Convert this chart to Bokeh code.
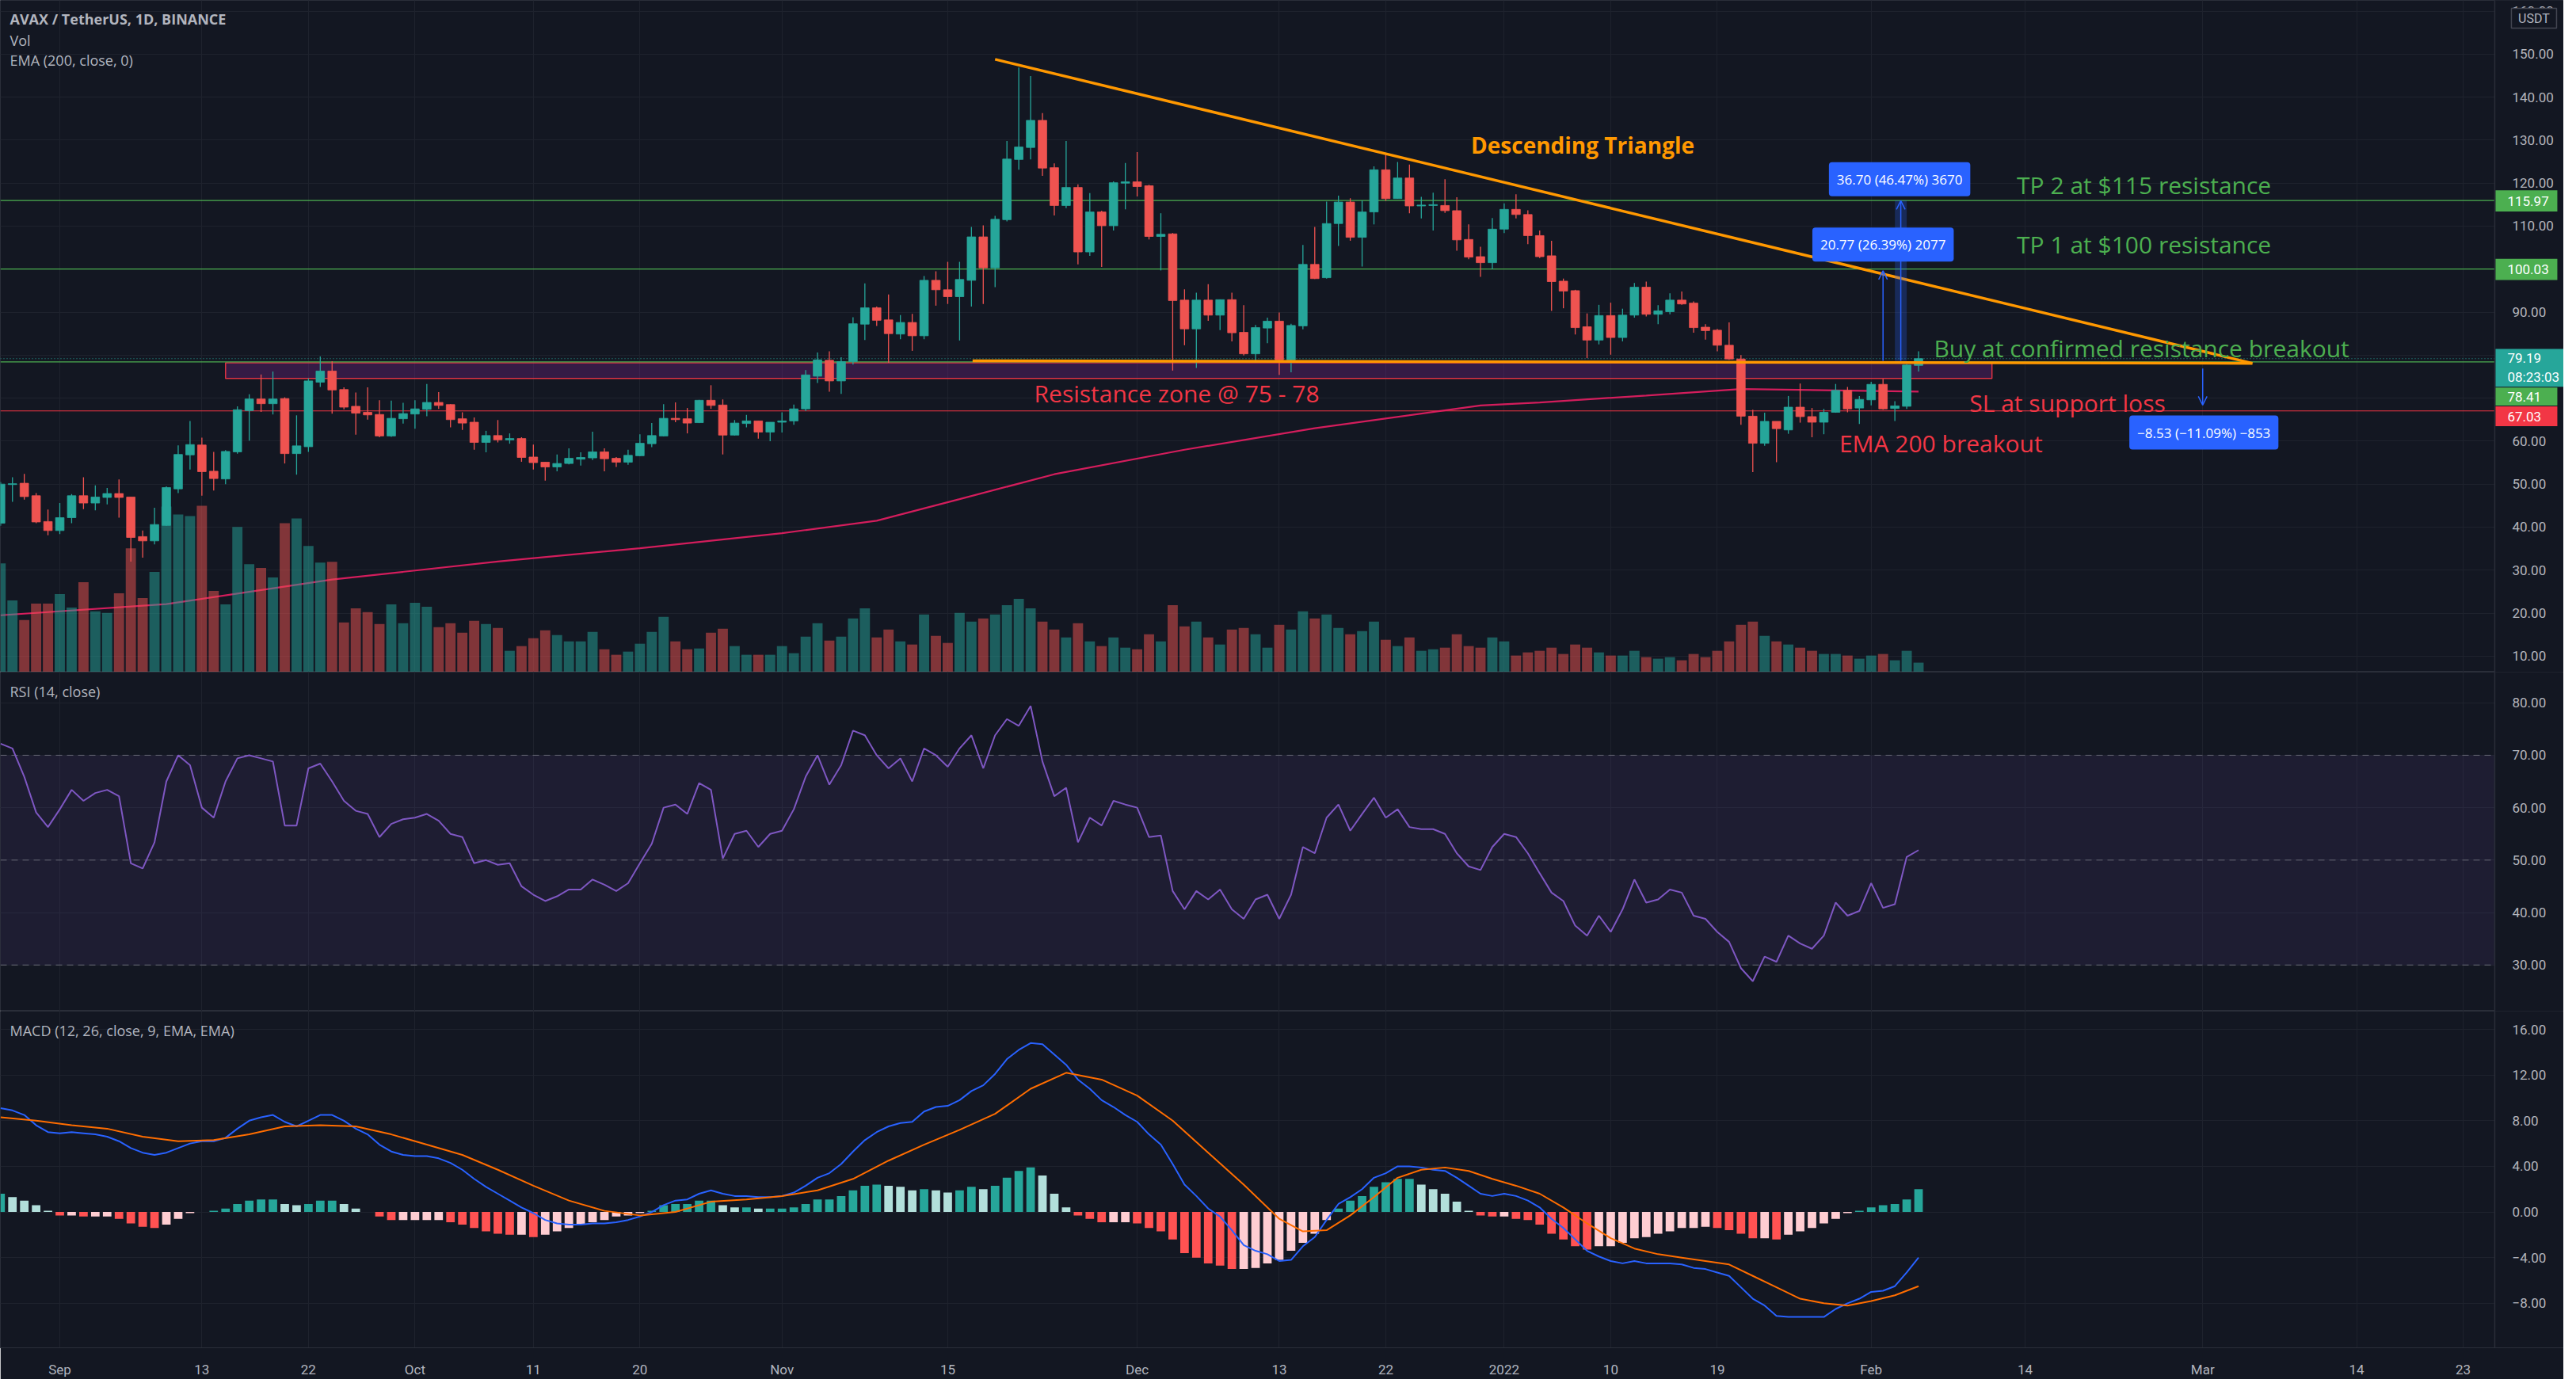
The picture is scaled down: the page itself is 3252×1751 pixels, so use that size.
from bokeh.plotting import figure
from bokeh.layouts import column
from bokeh.models import (Range1d, FixedTicker, Grid, Label, Arrow, OpenHead,
                          ColumnDataSource, CustomJSTickFormatter)
from bokeh.embed import file_html
from bokeh.resources import INLINE

# ---------------- data (day index: 0 = 1 Sep 2021) ----------------
days = list(range(-5, 158))

opens = [40.9, 49.9, 50.2, 47.3, 41.3, 39.2, 42.2, 47.3, 45.6, 46.9,
         47.8, 47.0, 37.8, 36.8, 40.4, 48.9, 56.8, 59.1, 53.0, 51.2,
         57.5, 67.1, 69.8, 68.7, 69.9, 57.1, 58.7, 73.7, 76.3, 72.0,
         68.1, 66.7, 66.2, 61.2, 65.2, 66.3, 67.4, 69.0, 68.5, 65.2,
         64.4, 59.7, 61.3, 60.3, 60.6, 56.3, 55.1, 54.0, 54.8, 55.8,
         56.1, 57.5, 56.0, 55.1, 56.6, 59.4, 61.2, 65.3, 65.2, 64.3,
         69.5, 68.4, 61.4, 64.1, 64.7, 62.1, 64.4, 64.7, 67.5, 75.1,
         78.8, 74.0, 78.5, 87.2, 91.0, 88.2, 84.9, 87.6, 84.5, 97.4,
         95.2, 93.6, 97.4, 107.5, 100.3, 111.5, 125.5, 128.3, 134.6, 123.6,
         114.8, 119.0, 104.0, 113.3, 110.1, 120.0, 120.3, 119.4, 107.6, 108.2,
         92.8, 86.1, 92.8, 89.3, 92.9, 85.3, 80.3, 86.3, 87.9, 78.9,
         86.8, 101.1, 98.0, 110.6, 115.6, 107.4, 113.3, 123.1, 116.4, 121.2,
         114.7, 114.8, 114.8, 113.6, 106.9, 102.9, 101.5, 109.3, 113.9, 112.7,
         107.8, 103.1, 97.2, 95.0, 86.6, 83.5, 89.2, 84.1, 89.3, 95.8,
         89.5, 90.1, 92.8, 92.1, 86.5, 85.8, 82.3, 79.1, 65.8, 59.5,
         64.6, 62.6, 67.9, 65.7, 64.4, 66.7, 71.8, 67.7, 69.6, 73.2,
         67.6, 68.1, 77.6]
highs = [50.5, 51.6, 52.4, 47.9, 44.1, 45.6, 47.7, 51.6, 49.7, 49.1,
         51.1, 47.0, 39.2, 44.5, 49.5, 59.0, 64.7, 60.8, 57.5, 57.9,
         68.1, 70.9, 75.5, 76.2, 70.2, 66.0, 74.6, 79.7, 78.6, 72.5,
         71.3, 72.5, 69.5, 69.4, 68.9, 69.5, 73.3, 71.4, 68.6, 66.7,
         65.5, 62.4, 64.9, 61.8, 60.9, 59.2, 55.1, 56.9, 58.3, 57.4,
         62.2, 58.3, 56.3, 58.0, 61.6, 64.2, 68.6, 69.0, 67.7, 69.6,
         73.0, 69.7, 64.9, 66.1, 64.7, 64.4, 66.7, 68.5, 76.5, 80.6,
         80.9, 79.5, 88.8, 96.7, 91.3, 94.1, 89.3, 89.6, 98.4, 99.5,
         101.7, 101.7, 109.8, 110.2, 112.4, 129.8, 146.9, 144.9, 136.3, 124.6,
         129.8, 119.7, 117.7, 113.6, 120.4, 124.7, 127.2, 119.6, 113.0, 108.4,
         95.3, 94.5, 96.5, 92.9, 94.5, 91.6, 87.0, 88.7, 89.9, 87.3,
         105.6, 109.8, 115.7, 117.1, 116.5, 116.0, 123.9, 127.0, 124.9, 124.3,
         116.8, 117.8, 120.9, 116.7, 110.4, 105.2, 111.9, 115.3, 117.4, 113.7,
         109.0, 106.6, 97.8, 95.2, 89.7, 91.7, 92.2, 90.8, 96.8, 97.1,
         91.6, 94.4, 94.8, 92.5, 87.2, 86.1, 87.6, 80.0, 67.3, 66.6,
         64.6, 70.5, 73.4, 67.7, 67.5, 73.3, 72.6, 70.5, 73.8, 74.5,
         69.3, 77.9, 80.9]
lows = [40.3, 45.9, 46.4, 40.9, 38.1, 38.4, 40.9, 44.2, 43.9, 45.3,
        42.2, 32.0, 32.9, 36.0, 40.3, 47.9, 53.4, 47.3, 48.5, 50.0,
        57.1, 60.1, 66.8, 66.2, 54.8, 52.2, 57.5, 72.6, 66.4, 67.4,
        61.5, 65.0, 60.9, 61.0, 64.1, 62.9, 65.8, 67.5, 63.2, 62.6,
        58.0, 57.4, 59.7, 59.4, 55.2, 53.4, 50.8, 53.0, 54.6, 54.3,
        55.6, 53.0, 54.0, 54.5, 56.5, 58.6, 61.1, 64.4, 61.8, 64.2,
        67.5, 56.9, 61.3, 63.2, 60.6, 60.0, 62.0, 63.8, 67.0, 73.5,
        71.5, 71.0, 77.8, 83.5, 86.8, 78.2, 83.7, 81.0, 83.7, 91.5,
        91.9, 83.4, 91.3, 91.9, 95.8, 111.1, 123.1, 125.5, 121.7, 112.5,
        114.2, 101.1, 103.1, 100.5, 109.0, 113.9, 116.9, 106.9, 99.7, 76.4,
        82.3, 77.0, 88.0, 85.8, 83.2, 79.9, 78.2, 82.8, 75.4, 76.0,
        86.0, 97.7, 97.8, 105.4, 106.6, 100.6, 110.4, 115.9, 116.4, 113.0,
        111.8, 109.0, 113.1, 104.3, 102.3, 98.2, 100.0, 108.4, 111.8, 105.8,
        102.6, 90.3, 90.9, 84.8, 79.3, 82.5, 80.1, 83.2, 88.7, 89.0,
        87.2, 89.5, 91.7, 85.2, 83.6, 80.9, 78.9, 63.8, 52.8, 58.9,
        55.1, 61.7, 64.3, 60.9, 61.6, 66.6, 66.7, 64.0, 68.3, 67.3,
        64.7, 67.5, 76.2]
closes = [50.0, 50.1, 47.1, 41.2, 39.2, 42.2, 47.3, 45.6, 47.0, 47.8,
          46.9, 37.6, 36.8, 40.6, 49.2, 56.9, 59.2, 52.9, 51.3, 57.6,
          67.3, 69.8, 68.7, 69.8, 57.1, 58.9, 74.0, 76.3, 71.9, 67.9,
          66.5, 66.1, 61.2, 65.3, 66.4, 67.5, 69.0, 68.3, 65.0, 64.2,
          59.7, 61.3, 60.3, 60.6, 56.2, 55.0, 54.0, 54.8, 56.0, 56.2,
          57.5, 55.9, 55.1, 56.7, 59.5, 61.3, 65.3, 65.0, 64.2, 69.5,
          68.3, 61.4, 64.2, 64.7, 62.1, 64.4, 64.7, 67.5, 75.4, 78.9,
          74.0, 78.5, 87.3, 91.0, 88.1, 85.0, 87.6, 84.5, 97.4, 95.2,
          93.6, 97.6, 107.5, 100.3, 111.6, 125.6, 128.4, 134.6, 123.5, 114.8,
          119.0, 104.0, 113.3, 110.1, 120.1, 120.3, 119.2, 107.6, 108.1, 92.7,
          86.1, 92.8, 89.3, 92.9, 85.2, 80.3, 86.4, 87.9, 78.9, 86.9,
          101.1, 97.8, 110.6, 115.6, 107.4, 113.3, 123.1, 116.4, 121.2, 114.7,
          114.9, 115.0, 113.6, 106.8, 102.8, 101.5, 109.3, 113.9, 112.7, 107.8,
          102.9, 97.1, 94.9, 86.4, 83.5, 89.2, 84.1, 89.3, 95.8, 89.5,
          90.3, 92.8, 91.9, 86.4, 85.7, 82.3, 79.1, 65.8, 59.5, 64.6,
          62.9, 67.9, 65.7, 64.4, 66.7, 71.8, 67.5, 69.7, 73.2, 67.5,
          68.2, 77.7, 79.19]
volumes = [13.8, 9.1, 6.6, 8.7, 8.7, 9.9, 8.2, 11.4, 7.7, 7.5,
           10.0, 15.7, 9.4, 12.7, 21.0, 20.0, 19.8, 21.1, 10.3, 8.6,
           18.4, 13.7, 13.2, 12.0, 18.9, 19.5, 16.0, 13.9, 14.0, 6.3,
           8.1, 7.6, 6.1, 8.6, 6.2, 8.8, 8.3, 5.7, 6.2, 5.0,
           6.5, 6.1, 5.6, 2.7, 3.3, 4.3, 5.3, 4.7, 3.9, 3.9,
           5.1, 2.9, 2.2, 2.6, 3.6, 5.1, 7.0, 3.9, 2.9, 3.0,
           5.0, 5.5, 3.3, 2.2, 2.2, 2.2, 3.3, 2.4, 4.5, 6.2,
           4.0, 4.5, 6.8, 8.1, 4.4, 5.4, 3.9, 3.5, 7.3, 4.6,
           3.7, 7.5, 6.4, 6.8, 7.3, 8.5, 9.3, 8.1, 6.4, 5.4,
           4.4, 6.2, 3.9, 3.3, 4.4, 3.1, 2.9, 4.8, 3.9, 8.5,
           5.8, 6.4, 4.4, 3.5, 5.4, 5.6, 4.8, 3.1, 6.0, 5.4,
           7.7, 6.8, 7.3, 5.6, 4.8, 5.2, 6.4, 4.1, 3.3, 4.4,
           2.7, 2.9, 3.1, 4.8, 3.3, 3.1, 4.4, 3.9, 2.1, 2.5,
           2.7, 3.1, 2.3, 3.5, 3.1, 2.5, 2.1, 2.1, 2.7, 1.9,
           1.7, 1.9, 1.5, 2.3, 1.9, 2.7, 3.9, 6.0, 6.4, 4.6,
           3.9, 3.5, 3.1, 2.7, 2.3, 2.3, 2.1, 1.7, 2.1, 2.3,
           1.5, 2.7, 1.2]

ema_days = [-5, 9, 23, 37, 49, 61, 69, 76, 84, 95, 106, 120, 125, 134, 142, 150, 157]
ema_vals = [19.5, 22.1, 27.8, 32.0, 35.1, 38.6, 41.5, 46.5, 52.3, 58.0, 63.0, 68.3, 69.0, 70.6, 72.1, 71.8, 71.5]

rsi = [72.2, 71.3, 65.9, 59.1, 56.3, 59.7, 63.4, 61.3, 62.8, 63.4,
       62.2, 49.4, 48.4, 53.4, 65.0, 70.0, 68.1, 60.0, 58.1, 65.0,
       69.4, 70.0, 69.4, 68.8, 56.6, 56.6, 67.5, 68.4, 65.0, 61.3,
       59.4, 58.8, 54.4, 56.9, 57.8, 58.1, 58.8, 57.5, 55.0, 54.4,
       49.4, 50.0, 49.1, 49.4, 45.0, 43.4, 42.2, 43.1, 44.4, 44.4,
       46.3, 45.3, 44.1, 45.6, 49.4, 53.1, 60.0, 60.6, 58.8, 64.7,
       63.4, 50.3, 55.0, 55.6, 52.5, 55.0, 55.6, 59.7, 65.9, 70.0,
       64.4, 68.1, 74.7, 73.8, 70.0, 67.5, 69.4, 65.0, 71.3, 70.0,
       67.8, 71.3, 73.8, 67.5, 73.8, 76.9, 75.6, 79.4, 68.8, 62.2,
       63.8, 53.4, 58.1, 56.6, 61.3, 60.6, 60.0, 54.4, 54.7, 44.1,
       40.6, 44.1, 42.5, 44.4, 40.6, 38.8, 42.5, 43.4, 38.8, 43.4,
       52.5, 51.3, 58.1, 60.6, 55.6, 58.8, 61.9, 58.1, 59.7, 56.3,
       55.9, 55.9, 55.0, 51.3, 48.8, 48.1, 52.5, 55.0, 54.4, 51.3,
       47.5, 43.8, 42.2, 37.5, 35.6, 39.4, 36.3, 40.6, 46.3, 41.9,
       42.5, 44.4, 43.8, 39.4, 38.8, 36.3, 34.4, 29.4, 26.9, 31.6,
       30.6, 35.6, 34.1, 33.1, 35.6, 41.9, 39.4, 40.3, 45.6, 40.9,
       41.6, 50.6, 51.9]

macd = [9.1, 8.9, 8.5, 7.6, 7.0, 6.9, 7.0, 6.9, 6.8, 6.6,
        6.2, 5.6, 5.2, 5.0, 5.2, 5.6, 6.0, 6.2, 6.2, 6.5,
        7.3, 8.0, 8.3, 8.5, 7.9, 7.5, 8.0, 8.5, 8.5, 8.0,
        7.3, 6.8, 5.9, 5.3, 5.0, 4.9, 4.9, 4.7, 4.3, 3.7,
        2.9, 2.2, 1.6, 1.0, 0.4, -0.1, -0.7, -1.0, -1.1, -1.1,
        -1.0, -1.0, -0.9, -0.7, -0.4, 0.0, 0.6, 1.0, 1.1, 1.6,
        1.9, 1.6, 1.4, 1.4, 1.3, 1.3, 1.4, 1.7, 2.3, 3.0,
        3.4, 4.2, 5.3, 6.3, 7.0, 7.5, 7.8, 7.9, 8.8, 9.2,
        9.3, 9.8, 10.6, 11.1, 12.1, 13.4, 14.2, 14.8, 14.7, 13.8,
        12.9, 11.6, 10.8, 9.8, 9.2, 8.5, 7.9, 6.8, 5.9, 4.2,
        2.4, 1.4, 0.3, -0.4, -1.6, -2.9, -3.4, -3.7, -4.3, -4.2,
        -3.0, -2.2, -0.7, 0.7, 1.3, 2.0, 3.0, 3.4, 4.0, 4.0,
        3.9, 3.7, 3.6, 3.0, 2.3, 1.6, 1.4, 1.6, 1.4, 1.0,
        0.4, -0.6, -1.4, -2.4, -3.4, -3.9, -4.3, -4.5, -4.3, -4.5,
        -4.5, -4.5, -4.6, -4.9, -5.0, -5.3, -5.6, -6.6, -7.6, -8.2,
        -9.1, -9.2, -9.2, -9.2, -9.2, -8.5, -8.0, -7.6, -7.0, -6.9,
        -6.5, -5.3, -4.0]
macd_hist = [1.6, 1.3, 1.0, 0.6, 0.1, -0.3, -0.3, -0.4, -0.4, -0.4,
             -0.6, -1.0, -1.3, -1.4, -1.1, -0.6, -0.1, 0.0, 0.1, 0.3,
             0.7, 1.0, 1.1, 1.1, 0.7, 0.6, 0.7, 1.0, 1.0, 0.7,
             0.3, 0.0, -0.4, -0.7, -0.7, -0.7, -0.7, -0.7, -0.9, -1.1,
             -1.4, -1.7, -1.9, -2.0, -2.0, -2.2, -2.0, -1.7, -1.4, -1.1,
             -0.9, -0.7, -0.4, -0.3, -0.1, 0.1, 0.6, 0.7, 0.7, 1.0,
             1.0, 0.6, 0.4, 0.4, 0.3, 0.3, 0.3, 0.4, 0.7, 1.1,
             1.1, 1.4, 1.9, 2.3, 2.4, 2.3, 2.2, 1.9, 2.0, 1.9,
             1.7, 1.9, 2.2, 2.0, 2.3, 3.0, 3.6, 3.9, 3.2, 1.6,
             0.4, -0.3, -0.6, -0.9, -0.9, -0.9, -1.0, -1.4, -1.7, -2.4,
             -3.6, -4.0, -4.5, -4.7, -5.0, -5.0, -4.9, -4.5, -4.2, -3.4,
             -2.7, -1.9, -0.7, 0.3, 1.0, 1.4, 2.2, 2.6, 2.9, 2.9,
             2.4, 2.0, 1.6, 0.9, 0.1, -0.3, -0.4, -0.4, -0.6, -0.7,
             -1.1, -1.9, -2.4, -3.0, -3.3, -3.0, -3.0, -2.7, -2.3, -2.2,
             -1.9, -1.7, -1.4, -1.4, -1.3, -1.4, -1.6, -1.9, -2.3, -2.3,
             -2.4, -2.0, -1.7, -1.4, -1.0, -0.6, -0.1, 0.1, 0.4, 0.6,
             0.7, 1.1, 2.0]
signal_days = [-5, -2, 1, 4, 7, 10, 13, 16, 19, 22, 25, 28, 31, 34, 37, 40, 43, 46, 49, 52,
               55, 58, 61, 64, 67, 70, 73, 76, 79, 82, 85, 88, 91, 94, 97, 100, 103, 105, 107,
               109, 111, 113, 115, 117, 119, 121, 123, 125, 127, 129, 131, 133, 135, 137, 139,
               141, 143, 145, 147, 149, 151, 153, 155, 157]
signal_vals = [8.3, 8.0, 7.6, 7.3, 6.6, 6.2, 6.3, 6.8, 7.5, 7.6, 7.5, 6.8, 5.9, 5.0, 3.7, 2.3,
               1.0, 0.1, -0.3, 0.0, 0.9, 1.1, 1.4, 1.9, 2.9, 4.5, 5.9, 7.2, 8.6, 10.8, 12.2,
               11.6, 10.2, 8.0, 5.2, 2.4, -0.6, -1.7, -1.6, -0.3, 1.3, 3.0, 3.7, 3.9, 3.6, 2.9,
               2.3, 1.6, 0.4, -1.0, -2.3, -3.2, -3.7, -4.0, -4.3, -4.6, -5.6, -6.6, -7.6, -8.0,
               -8.2, -7.8, -7.3, -6.5]

tick_days = [0, 12, 21, 30, 40, 49, 61, 75, 91, 103, 112, 122, 131, 140, 153, 166, 181, 194, 203]
tick_labels = ["Sep", "13", "22", "Oct", "11", "20", "Nov", "15", "Dec", "13", "22", "2022",
               "10", "19", "Feb", "14", "Mar", "14", "23"]
price_ticks = list(range(10, 161, 10))
rsi_ticks = [30, 40, 50, 60, 70, 80]
macd_ticks = [-8, -4, 0, 4, 8, 12, 16]

# price-scale tags: (text lines, top, bottom, colour, width px)
tag_specs = [(["115.97"], 118.35, 113.40, "#4caf50", 79),
             (["100.03"], 102.40, 97.45, "#4caf50", 79),
             (["79.19", "08:23:03"], 81.46, 72.66, "#26a69a", 87),
             (["78.41"], 72.48, 68.26, "#4caf50", 79),
             (["67.03"], 68.07, 63.49, "#f23645", 79)]

# ---------------- styling ----------------
BG = "#131722"
GRID = "#1e222d"
BORDER = "#2a2e39"
TXT = "#b2b5be"
UP = "#26a69a"
DOWN = "#ef5350"
GREEN = "#4caf50"
RED = "#f23645"
ORANGE = "#ff9800"
BLUE = "#2962ff"
AXFONT = "Roboto"
TFONT = "Open Sans"

TOTAL_W = 3236
PXD = 14.946                     # pixels per day
X0 = -75 / PXD
XA = 205.67                      # right edge of the chart area (price scale starts here)
MAIN_W = (XA - X0) * PXD
X1 = X0 + TOTAL_W / PXD
xr = Range1d(X0, X1)
STANDOFF = -int(round(TOTAL_W - MAIN_W)) + 16

yfmt = CustomJSTickFormatter(code="return tick.toFixed(2).replace('-', '\u2212');")
xfmt = CustomJSTickFormatter(args=dict(tvals=tick_days, tlabels=tick_labels),
                             code="const i = tvals.indexOf(tick); return i >= 0 ? tlabels[i] : '';")


def make_fig(fh, yr, yticks, with_xaxis=False):
    p = figure(frame_width=TOTAL_W, frame_height=fh, x_range=xr, y_range=Range1d(*yr),
               output_backend="svg", toolbar_location=None,
               x_axis_location="below" if with_xaxis else None,
               y_axis_location="right",
               min_border_left=0, min_border_top=0, min_border_right=0,
               min_border_bottom=34 if with_xaxis else 0,
               background_fill_color=BG, border_fill_color=BG,
               outline_line_color=BORDER)
    yt = FixedTicker(ticks=yticks)
    ax = p.yaxis[0]
    ax.ticker = yt
    ax.formatter = yfmt
    ax.major_tick_line_color = None
    ax.minor_tick_line_color = None
    ax.axis_line_color = None
    ax.major_label_text_color = TXT
    ax.major_label_text_font = AXFONT
    ax.major_label_text_font_size = "17px"
    ax.major_label_standoff = STANDOFF
    p.ygrid.ticker = yt
    p.ygrid.grid_line_color = GRID
    xt = FixedTicker(ticks=tick_days)
    if with_xaxis:
        xa = p.xaxis[0]
        xa.ticker = xt
        xa.formatter = xfmt
        xa.major_tick_line_color = None
        xa.minor_tick_line_color = None
        xa.axis_line_color = BORDER
        xa.major_label_text_color = TXT
        xa.major_label_text_font = AXFONT
        xa.major_label_text_font_size = "17px"
        xa.major_label_standoff = 11
    if len(p.xgrid) > 0:
        p.xgrid.ticker = xt
        p.xgrid.grid_line_color = GRID
    else:
        p.add_layout(Grid(dimension=0, ticker=xt, grid_line_color=GRID), "center")
    return p


def price_scale_area(p, yr):
    # background of the price scale (covers the grid), and separator line
    p.quad(left=XA, right=X1 + 1, bottom=yr[0] - 50, top=yr[1] + 50,
           fill_color=BG, line_color=None)
    p.segment(x0=XA, y0=yr[0] - 50, x1=XA, y1=yr[1] + 50, line_color=BORDER, line_width=1.5)


# ---------------- price pane ----------------
P1_H = 848
P1_R = (6.28, 162.5)
PPU1 = P1_H / (P1_R[1] - P1_R[0])
p1 = make_fig(P1_H, P1_R, price_ticks)
p1.extra_y_ranges = {"vol": Range1d(0, 85.2)}

cols = [UP if c >= o else DOWN for o, c in zip(opens, closes)]
src = ColumnDataSource(dict(
    x=days, o=opens, h=highs, l=lows, c=closes, v=volumes, col=cols,
    top=[max(o, c) for o, c in zip(opens, closes)],
    bot=[min(o, c) for o, c in zip(opens, closes)]))

# resistance zone
p1.quad(left=14.0, right=163.2, bottom=74.6, top=78.2, fill_color="#9c27b0",
        fill_alpha=0.25, line_color=RED, line_width=1.5, line_alpha=0.9)

# horizontal levels
for lvl, colr in [(115.97, GREEN), (100.03, GREEN), (78.41, GREEN), (67.03, RED)]:
    p1.segment(x0=X0, y0=lvl, x1=XA, y1=lvl, line_color=colr, line_width=1.2)
p1.segment(x0=X0, y0=79.19, x1=XA, y1=79.19, line_color=UP, line_width=1.2, line_dash="1 3")

# EMA 200
p1.line(ema_days, ema_vals, line_color="#e91e63", line_width=2.2, line_alpha=0.9)

# volume
p1.vbar(x="x", top="v", bottom=0, width=0.86, source=src, fill_color="col",
        fill_alpha=0.5, line_color=None, y_range_name="vol")

# candles
p1.segment(x0="x", y0="l", x1="x", y1="h", source=src, line_color="col", line_width=1.3)
p1.vbar(x="x", top="top", bottom="bot", width=0.72, source=src, fill_color="col",
        line_color="col", line_width=0.8)

# triangle lines
p1.segment(x0=[79.0, 77.1], y0=[148.8, 78.7], x1=[185.2, 185.2], y1=[78.1, 78.1],
           line_color=ORANGE, line_width=3.5)

# measurement tools
p1.quad(left=155.0, right=156.0, bottom=78.7, top=115.97, fill_color=BLUE,
        fill_alpha=0.25, line_color=None)
for xs, y0, y1 in [(155.5, 78.7, 115.9), (154.0, 78.7, 99.6), (181.0, 76.9, 68.4)]:
    p1.add_layout(Arrow(end=OpenHead(size=11, line_color=BLUE, line_width=1.5),
                        x_start=xs, y_start=y0, x_end=xs, y_end=y1,
                        line_color=BLUE, line_width=1.5))
for txt, xc, yc in [("36.70 (46.47%) 3670", 155.4, 120.9),
                    ("20.77 (26.39%) 2077", 154.0, 105.7),
                    ("\u22128.53 (\u221211.09%) \u2212853", 181.1, 62.0)]:
    p1.add_layout(Label(x=xc, y=yc, text=txt, text_align="center", text_baseline="middle",
                        text_color="white", text_font=TFONT, text_font_size="17px",
                        background_fill_color=BLUE, padding=10, border_radius=4))

# annotation texts
ann = [("Descending Triangle", 119.2, 128.8, ORANGE, "28px", "bold"),
       ("TP 2 at $115 resistance", 165.3, 119.5, GREEN, "30px", "normal"),
       ("TP 1 at $100 resistance", 165.3, 105.8, GREEN, "30px", "normal"),
       ("Buy at confirmed resistance breakout", 158.3, 81.7, GREEN, "30px", "normal"),
       ("SL at support loss", 161.3, 69.0, RED, "30px", "normal"),
       ("EMA 200 breakout", 150.3, 59.5, RED, "30px", "normal"),
       ("Resistance zone @ 75 - 78", 82.3, 71.2, RED, "30px", "normal")]
for txt, xl, yc, colr, fs, st in ann:
    p1.add_layout(Label(x=xl, y=yc, text=txt, text_align="left", text_baseline="middle",
                        text_color=colr, text_font=TFONT, text_font_size=fs,
                        text_font_style=st))

# legend texts
lx = X0 + 12 / PXD
p1.add_layout(Label(x=lx, y=P1_R[1] - 23 / PPU1, text="AVAX / TetherUS, 1D, BINANCE",
                    text_baseline="middle", text_color=TXT, text_font=TFONT,
                    text_font_size="18px", text_font_style="bold"))
p1.add_layout(Label(x=lx, y=P1_R[1] - 50 / PPU1, text="Vol", text_baseline="middle",
                    text_color=TXT, text_font=TFONT, text_font_size="18px"))
p1.add_layout(Label(x=lx, y=P1_R[1] - 75 / PPU1, text="EMA (200, close, 0)",
                    text_baseline="middle", text_color=TXT, text_font=TFONT,
                    text_font_size="18px"))

price_scale_area(p1, P1_R)

# tags on the price scale (drawn over the scale labels)
for lines, top, bot, colr, wpx in tag_specs:
    p1.quad(left=XA + 1 / PXD, right=XA + wpx / PXD, bottom=bot, top=top,
            fill_color=colr, line_color=None, level="annotation")
    n = len(lines)
    step = (top - bot) / n
    for i, t in enumerate(lines):
        p1.add_layout(Label(x=XA + 16 / PXD, y=top - step * (i + 0.5), text=t,
                            text_baseline="middle", text_color="white", text_font=AXFONT,
                            text_font_size="17px", level="overlay"))
p1.quad(left=XA + 21 / PXD, right=XA + 78 / PXD, bottom=P1_R[1] - 35 / PPU1,
        top=P1_R[1] - 10 / PPU1, fill_color=BG, line_color="#434651", line_width=1.5,
        level="annotation")
p1.add_layout(Label(x=XA + 49.5 / PXD, y=P1_R[1] - 22.5 / PPU1, text="USDT",
                    text_align="center", text_baseline="middle", text_color=TXT,
                    text_font=AXFONT, text_font_size="16px", level="overlay"))

# ---------------- RSI pane ----------------
P2_H = 428
P2_R = (21.2, 85.85)
PPU2 = P2_H / (P2_R[1] - P2_R[0])
p2 = make_fig(P2_H, P2_R, rsi_ticks)
p2.quad(left=X0, right=XA, bottom=30, top=70, fill_color="#7e57c2", fill_alpha=0.1,
        line_color=None)
for lvl in (70, 50, 30):
    p2.segment(x0=X0, y0=lvl, x1=XA, y1=lvl, line_color="#787b86",
               line_width=1, line_dash="8 6", line_alpha=0.8)
p2.line(days, rsi, line_color="#7e57c2", line_width=2)
p2.add_layout(Label(x=lx, y=P2_R[1] - 24 / PPU2, text="RSI (14, close)", text_baseline="middle",
                    text_color=TXT, text_font=TFONT, text_font_size="18px"))
price_scale_area(p2, P2_R)

# ---------------- MACD pane ----------------
P3_H = 425
P3_R = (-11.9, 17.6)
PPU3 = P3_H / (P3_R[1] - P3_R[0])
p3 = make_fig(P3_H, P3_R, macd_ticks, with_xaxis=True)
hcols = []
prev = None
for hv in macd_hist:
    rising = prev is None or hv >= prev
    if hv >= 0:
        hcols.append("#26a69a" if rising else "#b2dfdb")
    else:
        hcols.append("#ffcdd2" if rising else "#ff5252")
    prev = hv
p3.vbar(x=days, top=macd_hist, bottom=0, width=0.72, fill_color=hcols, line_color=None)
p3.line(days, macd, line_color=BLUE, line_width=2)
p3.line(signal_days, signal_vals, line_color="#ff6d00", line_width=2)
p3.add_layout(Label(x=lx, y=P3_R[1] - 24 / PPU3, text="MACD (12, 26, close, 9, EMA, EMA)",
                    text_baseline="middle", text_color=TXT, text_font=TFONT,
                    text_font_size="18px"))
price_scale_area(p3, P3_R)

layout = column(p1, p2, p3, spacing=0)
open("out.html", "w").write(file_html(layout, INLINE))
